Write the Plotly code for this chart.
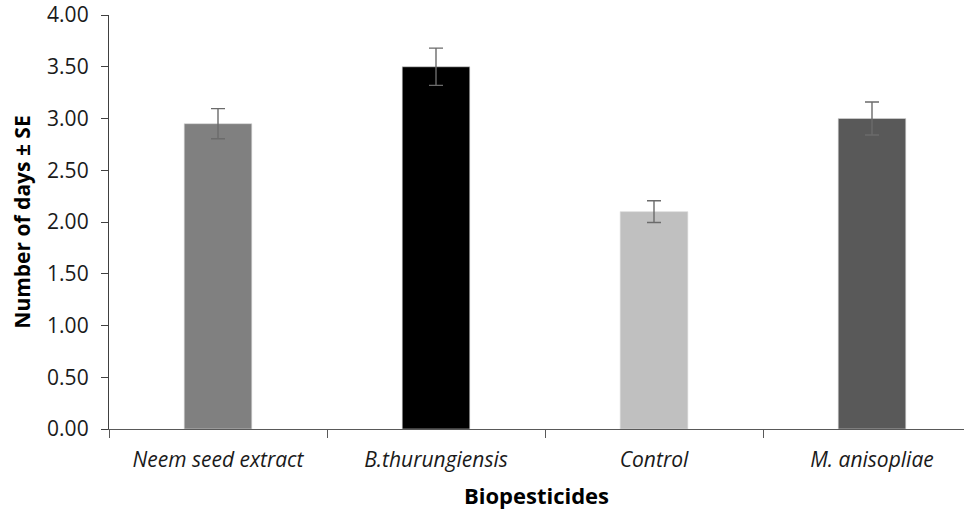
import plotly.graph_objects as go

# Mean number of days per treatment, with standard errors
treatments = ["Neem seed extract", "B.thurungiensis", "Control", "M. anisopliae"]
mean_days = [2.95, 3.50, 2.10, 3.00]
std_err = [0.145, 0.18, 0.105, 0.16]
bar_colors = ["#808080", "#000000", "#C0C0C0", "#595959"]
y_ticks = [0.0, 0.5, 1.0, 1.5, 2.0, 2.5, 3.0, 3.5, 4.0]

font_family = "'Open Sans', Lato, sans-serif"

fig = go.Figure(
    go.Bar(
        x=treatments,
        y=mean_days,
        width=0.31,
        marker=dict(color=bar_colors, line=dict(color="#d9d9d9", width=0.6)),
        error_y=dict(type="data", array=std_err, visible=True,
                     color="#6b6b6b", thickness=1.4, width=7),
        hoverinfo="x+y",
    )
)

fig.update_layout(
    width=964,
    height=514,
    margin=dict(l=109, r=0, t=15, b=85),
    paper_bgcolor="white",
    plot_bgcolor="white",
    showlegend=False,
    font=dict(family=font_family, size=21, color="#000000"),
    xaxis=dict(
        type="category",
        range=[-0.5, 3.422],
        tickmode="array",
        tickvals=treatments,
        ticktext=["<i>" + t + "</i>" for t in treatments],
        tickson="boundaries",
        ticks="outside",
        ticklen=8,
        tickcolor="#595959",
        showline=True,
        linecolor="#595959",
        linewidth=1.3,
        showgrid=False,
        ticklabelstandoff=12,
        tickfont=dict(size=21, color="#1a1a1a"),
        title=dict(text="<b>Biopesticides</b>", font=dict(size=22), standoff=16),
    ),
    yaxis=dict(
        range=[0, 4],
        tickmode="array",
        tickvals=y_ticks,
        tickformat=".2f",
        ticks="outside",
        ticklen=7,
        tickcolor="#404040",
        showline=True,
        linecolor="#404040",
        linewidth=1.3,
        showgrid=False,
        zeroline=False,
        ticklabelstandoff=8,
        tickfont=dict(size=21, color="#1a1a1a"),
        title=dict(text="<b>Number of days ± SE</b>", font=dict(size=21), standoff=10),
    ),
)

fig.write_html("out.html")
